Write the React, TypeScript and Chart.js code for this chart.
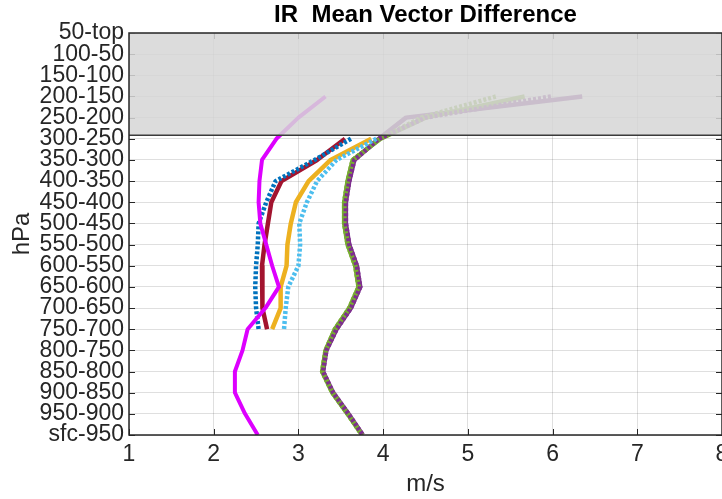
import { useEffect, useRef } from 'react';
import { Chart, registerables } from 'chart.js';

Chart.register(...registerables);

const TITLE = 'IR  Mean Vector Difference';
const X_LABEL = 'm/s';
const Y_LABEL = 'hPa';

const LEVELS = [
  '50-top', '100-50', '150-100', '200-150', '250-200', '300-250', '350-300', '400-350',
  '450-400', '500-450', '550-500', '600-550', '650-600', '700-650', '750-700', '800-750',
  '850-800', '900-850', '950-900', 'sfc-950',
];
const X_TICKS = [1, 2, 3, 4, 5, 6, 7, 8];
// shaded (low-confidence) region: from the top down to just above 300-250 (index space)
const SHADE_TO_LEVEL = 4.83;

type V = number | null;
const magenta: V[] = [null, null, null, 3.32, 3.0, 2.74, 2.57, 2.54, 2.53, 2.55, 2.62, 2.69, 2.77, 2.61, 2.4, 2.34, 2.25, 2.25, 2.37, 2.52];
const blueDot: V[] = [null, null, null, null, null, 3.62, 3.19, 2.73, 2.62, 2.53, 2.52, 2.5, 2.49, 2.5, 2.53, null, null, null, null, null];
const darkRed: V[] = [null, null, null, null, null, 3.55, 3.22, 2.8, 2.68, 2.64, 2.6, 2.57, 2.57, 2.58, 2.63, null, null, null, null, null];
const lightBlueDot: V[] = [null, null, null, null, null, 3.92, 3.45, 3.22, 3.1, 3.01, 3.02, 3.0, 2.88, 2.85, 2.83, null, null, null, null, null];
const orange: V[] = [null, null, null, null, null, 3.86, 3.38, 3.12, 2.97, 2.91, 2.87, 2.86, 2.79, 2.79, 2.69, null, null, null, null, null];
const purpleDot: V[] = [null, null, null, 5.98, 4.5, 3.95, 3.66, 3.6, 3.56, 3.56, 3.6, 3.69, 3.73, 3.62, 3.45, 3.33, 3.29, 3.41, 3.59, 3.76];
const greenDot: V[] = [null, null, null, 5.33, 4.45, 3.96, 3.64, 3.58, 3.54, 3.54, 3.58, 3.67, 3.71, 3.6, 3.43, 3.32, 3.28, 3.4, 3.58, 3.75];
const green: V[] = [null, null, null, 5.67, 4.5, 3.97, 3.64, 3.58, 3.54, 3.54, 3.58, 3.67, 3.71, 3.6, 3.43, 3.32, 3.28, 3.4, 3.58, 3.75];
const purple: V[] = [null, null, null, 6.35, 4.27, 3.95, 3.66, 3.6, 3.56, 3.56, 3.6, 3.69, 3.73, 3.62, 3.45, 3.33, 3.29, 3.41, 3.59, 3.76];

const FONT = "'Liberation Sans', Arial, Helvetica, sans-serif";
const AXIS_COLOR = '#262626';

const toPoints = (vals: V[]) =>
  vals
    .map((v, i) => (v == null ? null : { x: v, y: i }))
    .filter((p) => p !== null) as { x: number; y: number }[];

const line = (label: string, vals: V[], color: string, dotted: boolean, width = 4.5) => ({
  label,
  data: toPoints(vals),
  borderColor: color,
  backgroundColor: color,
  borderWidth: width,
  borderDash: dotted ? [3, 2] : [],
  borderCapStyle: 'butt' as const,
  borderJoinStyle: 'round' as const,
  pointRadius: 0,
  pointHoverRadius: 0,
  tension: 0,
  fill: false,
});

const framePlugin = {
  id: 'frameAndShade',
  afterDatasetsDraw(chart: any) {
    const { ctx, chartArea, scales } = chart;
    const { left, right, top, bottom } = chartArea;
    const xs = scales.x;
    const ys = scales.y;
    ctx.save();
    // inward tick marks
    ctx.strokeStyle = AXIS_COLOR;
    ctx.lineWidth = 1;
    ctx.beginPath();
    X_TICKS.forEach((t) => {
      const px = Math.round(xs.getPixelForValue(t)) + 0.5;
      ctx.moveTo(px, bottom);
      ctx.lineTo(px, bottom - 6);
      ctx.moveTo(px, top);
      ctx.lineTo(px, top + 6);
    });
    LEVELS.forEach((_, i) => {
      const py = Math.round(ys.getPixelForValue(i)) + 0.5;
      ctx.moveTo(left, py);
      ctx.lineTo(left + 6, py);
      ctx.moveTo(right, py);
      ctx.lineTo(right - 6, py);
    });
    ctx.stroke();
    // translucent shade
    const pb = ys.getPixelForValue(SHADE_TO_LEVEL);
    ctx.fillStyle = 'rgba(214,214,214,0.86)';
    ctx.fillRect(left, top, right - left, pb - top);
    ctx.strokeStyle = '#3a3a3a';
    ctx.lineWidth = 1.6;
    ctx.beginPath();
    ctx.moveTo(left, pb);
    ctx.lineTo(right, pb);
    ctx.stroke();
    // box
    ctx.strokeStyle = AXIS_COLOR;
    ctx.lineWidth = 1.5;
    ctx.strokeRect(left, top, right - left, bottom - top);
    ctx.restore();
  },
};

export default function App() {
  const ref = useRef<HTMLCanvasElement | null>(null);

  useEffect(() => {
    if (!ref.current) return;
    const datasets = [
      line('magenta', magenta, '#dd00ff', false, 4),
      line('blue', blueDot, '#0072bd', true),
      line('darkred', darkRed, '#a2142f', false),
      line('lightblue', lightBlueDot, '#4dbeee', true),
      line('orange', orange, '#edb120', false),
      line('purple dotted', purpleDot, '#7e2f8e', true),
      line('green dotted', greenDot, '#77ac30', true),
      line('green', green, '#77ac30', false),
      line('purple', purple, '#7e2f8e', false),
    ];
    const chart = new Chart(ref.current, {
      type: 'line',
      data: { datasets },
      plugins: [framePlugin],
      options: {
        animation: false,
        responsive: false,
        maintainAspectRatio: false,
        devicePixelRatio: 1,
        layout: { padding: { left: 0, right: 38, top: 0, bottom: 0 } },
        plugins: {
          legend: { display: false },
          tooltip: { enabled: false },
          title: {
            display: true,
            text: TITLE,
            fullSize: false,
            color: '#000',
            font: { family: FONT, size: 24, weight: 'bold' },
            padding: { top: 1, bottom: 3.2 },
          },
        },
        scales: {
          x: {
            type: 'linear',
            position: 'bottom',
            min: 1,
            max: 8,
            ticks: {
              stepSize: 1,
              color: AXIS_COLOR,
              font: { family: FONT, size: 23 },
              padding: 6,
            },
            grid: { color: 'rgba(38,38,38,0.15)', drawTicks: false },
            border: { display: false },
            title: {
              display: true,
              text: X_LABEL,
              color: AXIS_COLOR,
              font: { family: FONT, size: 24 },
              padding: { top: 0, bottom: 0 },
            },
            afterFit: (s: any) => {
              s.height = 64;
            },
          },
          y: {
            type: 'linear',
            reverse: true,
            min: 0,
            max: LEVELS.length - 1,
            ticks: {
              stepSize: 1,
              autoSkip: false,
              color: AXIS_COLOR,
              font: { family: FONT, size: 23 },
              padding: 5,
              callback: (v: any) => LEVELS[Math.round(Number(v))] ?? '',
            },
            grid: { color: 'rgba(38,38,38,0.15)', drawTicks: false },
            border: { display: false },
            title: {
              display: true,
              text: Y_LABEL,
              color: AXIS_COLOR,
              font: { family: FONT, size: 24 },
              padding: { top: 8, bottom: 0 },
            },
            afterFit: (s: any) => {
              s.width = 129;
            },
          },
        },
      },
    } as any);
    return () => chart.destroy();
  }, []);

  return (
    <div style={{ position: 'fixed', left: 0, top: 0, width: 722, height: 499, overflow: 'hidden', background: '#fff' }}>
      <canvas ref={ref} width={760} height={499} style={{ width: 760, height: 499, display: 'block' }} />
    </div>
  );
}
